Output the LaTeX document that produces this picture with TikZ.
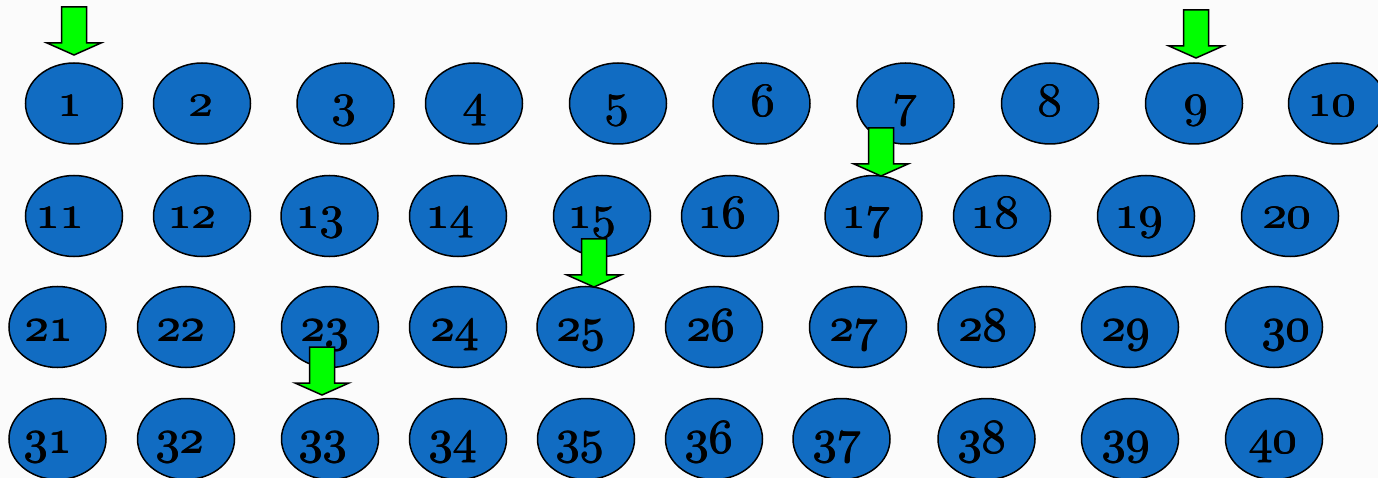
\documentclass[tikz,border=0pt]{standalone}
\usetikzlibrary{shapes.geometric}
\DeclareFontFamily{OML}{osn}{\skewchar\font=127 }
\DeclareFontShape{OML}{osn}{m}{it}{<->cmmi10}{}
\newcommand\numfont{\fontsize{48}{48}\usefont{OML}{osn}{m}{it}}
\newcommand\numtext[1]{\rlap{#1}\kern1pt\rlap{#1}\raisebox{0.6pt}{#1}}
\definecolor{ellblue}{RGB}{17,108,194}
\definecolor{arrgreen}{RGB}{0,255,0}
\definecolor{bgcol}{RGB}{251,251,251}
\tikzset{
  ell/.style={ellipse, draw=black, line width=1.5pt, fill=ellblue,
    minimum width=97pt, minimum height=81pt, inner sep=0pt},
  lbl/.style={anchor=base, inner sep=0pt, font=\numfont, text=black},
  arrowstyle/.style={draw=black, fill=arrgreen, line width=1.5pt, line join=miter},
  downarr/.pic={\path[arrowstyle] (0,0) -- (-27,-12) -- (-12.5,-12) -- (-12.5,-48)
      -- (12.5,-48) -- (12.5,-12) -- (27,-12) -- cycle;}
}
\begin{document}
\begin{tikzpicture}[x=1pt,y=-1pt]
\fill[bgcol] (0,0) rectangle (1378,478);
\useasboundingbox (0,0) rectangle (1378,478);
\clip (0,0) rectangle (1378,478);
% row 1
\foreach \n/\cx/\tx in {1/74/70, 2/202/201, 3/345.5/344, 4/474/475, 5/618/617,
  6/761.5/763, 7/905.5/905, 8/1050/1050, 9/1194/1196, 10/1337/1331.5}{
  \node[ell] (e\n) at (\cx,103.5) {};
  \node[lbl] (t\n) at (\tx,117) {\numtext{\n}};
}
% row 2
\foreach \n/\cx/\tx in {11/74/60, 12/202/192, 13/329.5/320, 14/458/450, 15/602/592,
  16/730/722, 17/873.5/866, 18/1002/995, 19/1146/1139, 20/1290/1287}{
  \node[ell] (e\n) at (\cx,216) {};
  \node[lbl] (t\n) at (\tx,229) {\numtext{\n}};
}
% row 3
\foreach \n/\cx/\tx in {21/57.5/49, 22/186/180.5, 23/330/325, 24/458/455, 25/585.5/581,
  26/714/711, 27/858/854, 28/986.5/983, 29/1130/1126, 30/1274/1286}{
  \node[ell] (e\n) at (\cx,327) {};
  \node[lbl] (t\n) at (\tx,341) {\numtext{\n}};
}
% row 4
\foreach \n/\cx/\tx in {31/57.5/48, 32/186/179.5, 33/330/323, 34/458/453, 35/586/580,
  36/714/709, 37/841.5/837, 38/986.5/981.5, 39/1130/1126, 40/1274/1272.5}{
  \node[ell] (e\n) at (\cx,439) {};
  \node[lbl] (t\n) at (\tx,453) {\numtext{\n}};
}
% green block arrows
\pic (a1) at (74,55) {downarr};
\pic (a9) at (1196,58) {downarr};
\pic (a7) at (881,176) {downarr};
\pic (a15) at (594,287) {downarr};
\pic (a23) at (322,395) {downarr};
\end{tikzpicture}
\end{document}
